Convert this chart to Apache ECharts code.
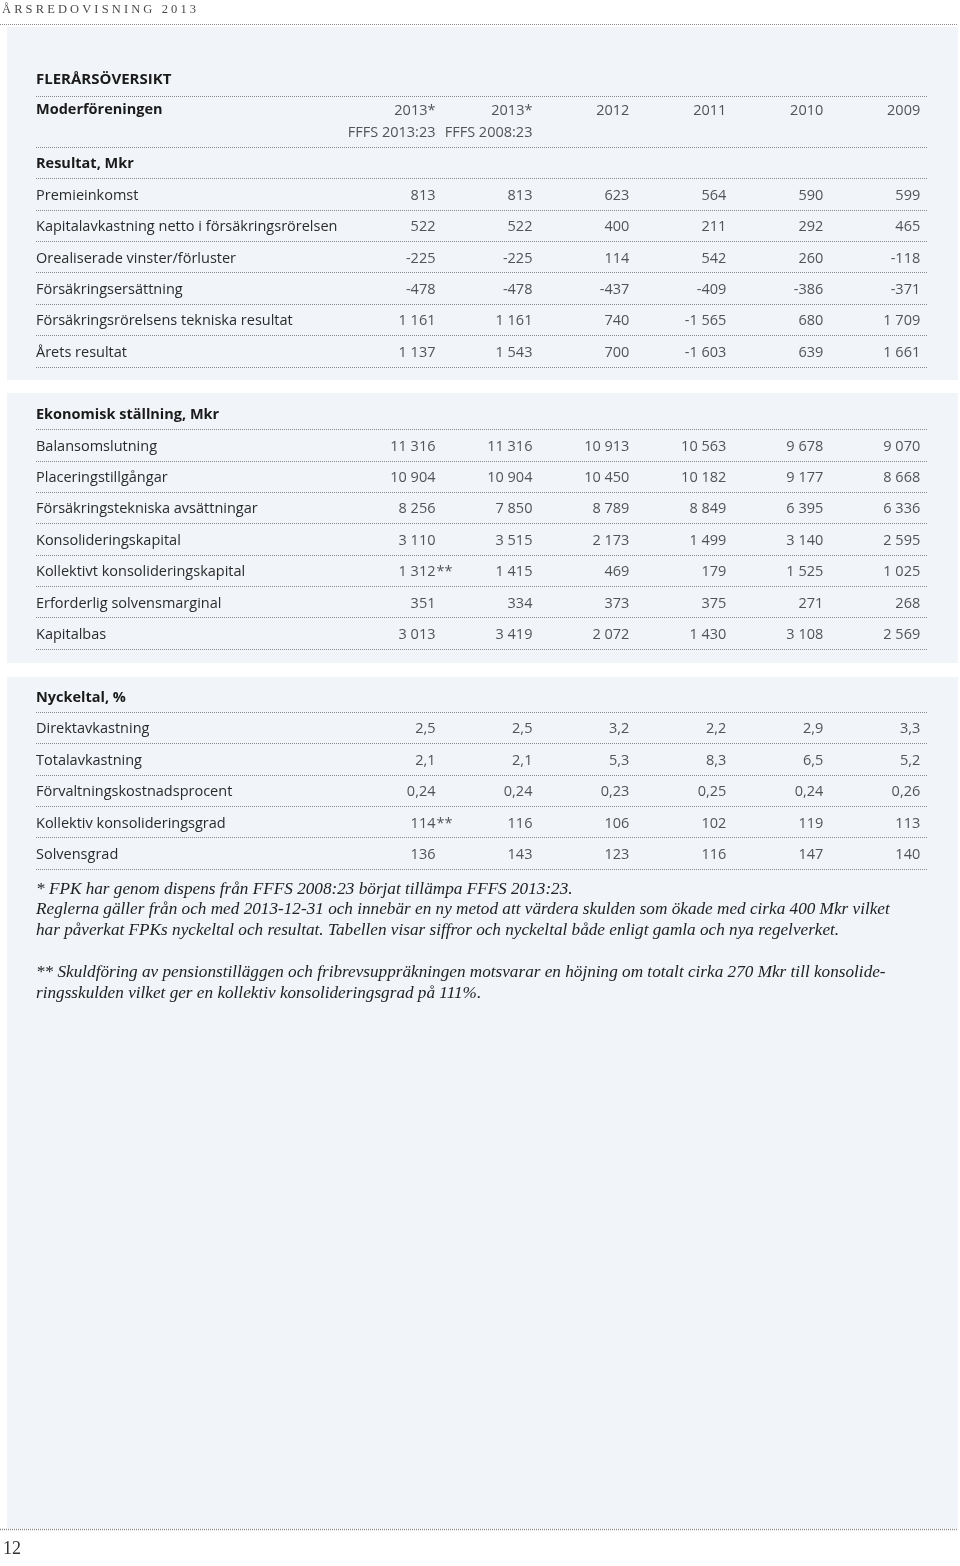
<!DOCTYPE html>
<html>
<head>
<meta charset="utf-8">
<title>Flerårsöversikt</title>
<script src="https://cdn.jsdelivr.net/npm/echarts/dist/echarts.min.js"></script>
<style>
  html, body { margin: 0; padding: 0; background: #fff; }
  #main { width: 960px; height: 1566px; }
</style>
</head>
<body>
<div id="main"></div>
<script type="text/javascript">

// kolumner
var years = ['2013*', '2013*', '2012', '2011', '2010', '2009'];
var yearNotes = ['FFFS 2013:23', 'FFFS 2008:23', '', '', '', ''];

// Resultat, Mkr
var resultatRows = ['Premieinkomst', 'Kapitalavkastning netto i försäkringsrörelsen',
  'Orealiserade vinster/förluster', 'Försäkringsersättning',
  'Försäkringsrörelsens tekniska resultat', 'Årets resultat'];
var resultatValues = [
  ['813', '813', '623', '564', '590', '599'],
  ['522', '522', '400', '211', '292', '465'],
  ['-225', '-225', '114', '542', '260', '-118'],
  ['-478', '-478', '-437', '-409', '-386', '-371'],
  ['1 161', '1 161', '740', '-1 565', '680', '1 709'],
  ['1 137', '1 543', '700', '-1 603', '639', '1 661']
];

// Ekonomisk ställning, Mkr
var ekonomiRows = ['Balansomslutning', 'Placeringstillgångar', 'Försäkringstekniska avsättningar',
  'Konsolideringskapital', 'Kollektivt konsolideringskapital',
  'Erforderlig solvensmarginal', 'Kapitalbas'];
var ekonomiValues = [
  ['11 316', '11 316', '10 913', '10 563', '9 678', '9 070'],
  ['10 904', '10 904', '10 450', '10 182', '9 177', '8 668'],
  ['8 256', '7 850', '8 789', '8 849', '6 395', '6 336'],
  ['3 110', '3 515', '2 173', '1 499', '3 140', '2 595'],
  ['1 312**', '1 415', '469', '179', '1 525', '1 025'],
  ['351', '334', '373', '375', '271', '268'],
  ['3 013', '3 419', '2 072', '1 430', '3 108', '2 569']
];

// Nyckeltal, %
var nyckelRows = ['Direktavkastning', 'Totalavkastning', 'Förvaltningskostnadsprocent',
  'Kollektiv konsolideringsgrad', 'Solvensgrad'];
var nyckelValues = [
  ['2,5', '2,5', '3,2', '2,2', '2,9', '3,3'],
  ['2,1', '2,1', '5,3', '8,3', '6,5', '5,2'],
  ['0,24', '0,24', '0,23', '0,25', '0,24', '0,26'],
  ['114**', '116', '106', '102', '119', '113'],
  ['136', '143', '123', '116', '147', '140']
];

var footnotes = [
  '* FPK har genom dispens från FFFS 2008:23 börjat tillämpa FFFS 2013:23.',
  'Reglerna gäller från och med 2013-12-31 och innebär en ny metod att värdera skulden som ökade med cirka 400 Mkr vilket',
  'har påverkat FPKs nyckeltal och resultat. Tabellen visar siffror och nyckeltal både enligt gamla och nya regelverket.',
  '',
  '** Skuldföring av pensionstilläggen och fribrevsuppräkningen motsvarar en höjning om totalt cirka 270 Mkr till konsolide-',
  'ringsskulden vilket ger en kollektiv konsolideringsgrad på 111%.'
];

var sections = [
  { head: 'Resultat, Mkr', rows: resultatRows, values: resultatValues },
  { head: 'Ekonomisk ställning, Mkr', rows: ekonomiRows, values: ekonomiValues },
  { head: 'Nyckeltal, %', rows: nyckelRows, values: nyckelValues }
];

var FONT = '"Open Sans", "Noto Sans", sans-serif';
var SERIF = '"Liberation Serif", "DejaVu Serif", serif';
var TXT = '#2b2b2b';
var PANEL = '#f1f4f9';
var DOT = { color: '#8a8a8a', width: 1, type: [1, 1] };

// grid layout: header row + 3 sections
var gridTops = [96, 147, 398, 680.6];
var gridHeights = [51, 220, 251, 188.4];
var minLines = [true, false, false, false];

var grids = [], xAxes = [], yAxes = [], series = [];

function addGrid(idx, cats, bold) {
  grids.push({ left: 36, right: 32, top: gridTops[idx], height: gridHeights[idx], containLabel: false });
  xAxes.push({ type: 'value', gridIndex: idx, min: -4.12, max: 5.08, show: false });
  yAxes.push({
    type: 'category', gridIndex: idx, data: cats, inverse: true,
    axisLine: { show: false }, axisTick: { show: false },
    axisLabel: {
      inside: true, margin: 0, color: TXT, fontFamily: FONT, fontSize: 14.5,
      padding: idx === 0 ? [0, 0, 24, 0] : [3, 0, 0, 0],
      formatter: function (v, i) { return bold(i) ? '{b|' + v + '}' : v; },
      rich: { b: { fontWeight: 'bold', fontFamily: FONT, fontSize: 14.5, color: '#1a1a1a' } }
    },
    splitLine: { show: true, showMinLine: minLines[idx], showMaxLine: true, lineStyle: DOT }
  });
}

function cellSeries(idx, data, lineHeight) {
  series.push({
    type: 'scatter', xAxisIndex: idx, yAxisIndex: idx, symbolSize: 0,
    itemStyle: { color: 'rgba(0,0,0,0)' }, silent: true,
    label: {
      show: true, position: 'left', distance: 0, align: 'right',
      offset: [0, idx === 0 ? 0 : 1.5],
      color: TXT, fontFamily: FONT, fontSize: 14.5, lineHeight: lineHeight || 20,
      formatter: function (p) { return p.data.txt; }
    },
    data: data
  });
}

function noteSeries(idx, data) {
  series.push({
    type: 'scatter', xAxisIndex: idx, yAxisIndex: idx, symbolSize: 0,
    itemStyle: { color: 'rgba(0,0,0,0)' }, silent: true,
    label: {
      show: true, position: 'right', distance: 1, align: 'left', offset: [0, 1.5],
      color: TXT, fontFamily: FONT, fontSize: 14.5,
      formatter: function (p) { return p.data.txt; }
    },
    data: data
  });
}

// header row (Moderföreningen)
addGrid(0, ['Moderföreningen'], function () { return true; });
cellSeries(0, years.map(function (y, c) {
  return { value: [c, 0], txt: yearNotes[c] ? y + '\n' + yearNotes[c] : y + '\n ' };
}), 22);

sections.forEach(function (s, k) {
  var idx = k + 1;
  addGrid(idx, [s.head].concat(s.rows), function (i) { return i === 0; });
  var cells = [], notes = [];
  s.values.forEach(function (row, r) {
    row.forEach(function (v, c) {
      var m = v.match(/^(.*?)(\*+)$/);
      cells.push({ value: [c, r + 1], txt: m ? m[1] : v });
      if (m) notes.push({ value: [c, r + 1], txt: m[2] });
    });
  });
  cellSeries(idx, cells);
  if (notes.length) noteSeries(idx, notes);
});

var myChart = echarts.init(document.getElementById('main'), null, { renderer: 'canvas' });

var option = {
  backgroundColor: '#ffffff',
  animation: false,
  title: [
    { text: 'Å R S R E D O V I S N I N G   2 0 1 3', left: 2, top: 3, padding: 0,
      textStyle: { fontFamily: SERIF, fontSize: 12.5, fontWeight: 'normal', color: '#4a4a4a' } },
    { text: 'FLERÅRSÖVERSIKT', left: 36, top: 72.5, padding: 0,
      textStyle: { fontFamily: FONT, fontSize: 15, fontWeight: 'bold', color: '#1a1a1a' } },
    { text: '12', left: 3, top: 1540, padding: 0,
      textStyle: { fontFamily: SERIF, fontSize: 18, fontWeight: 'normal', color: '#333' } }
  ],
  graphic: [
    { type: 'rect', z: -10, shape: { x: 7, y: 27, width: 951, height: 353 }, style: { fill: PANEL } },
    { type: 'rect', z: -10, shape: { x: 7, y: 393, width: 951, height: 270 }, style: { fill: PANEL } },
    { type: 'rect', z: -10, shape: { x: 7, y: 677, width: 951, height: 851 }, style: { fill: PANEL } },
    { type: 'line', shape: { x1: 0, y1: 24.5, x2: 957, y2: 24.5 },
      style: { stroke: '#8a8a8a', lineWidth: 1, lineDash: [1, 1] } },
    { type: 'line', shape: { x1: 0, y1: 1529.5, x2: 957, y2: 1529.5 },
      style: { stroke: '#8a8a8a', lineWidth: 1.5, lineDash: [1, 1] } },
    { type: 'text', left: 36, top: 878.6,
      style: { text: footnotes.join('\n'), fontFamily: SERIF, fontStyle: 'italic',
        fontSize: 17.2, lineHeight: 20.8, fill: '#222' } }
  ],
  grid: grids,
  xAxis: xAxes,
  yAxis: yAxes,
  series: series
};

myChart.setOption(option);

</script>
</body>
</html>
